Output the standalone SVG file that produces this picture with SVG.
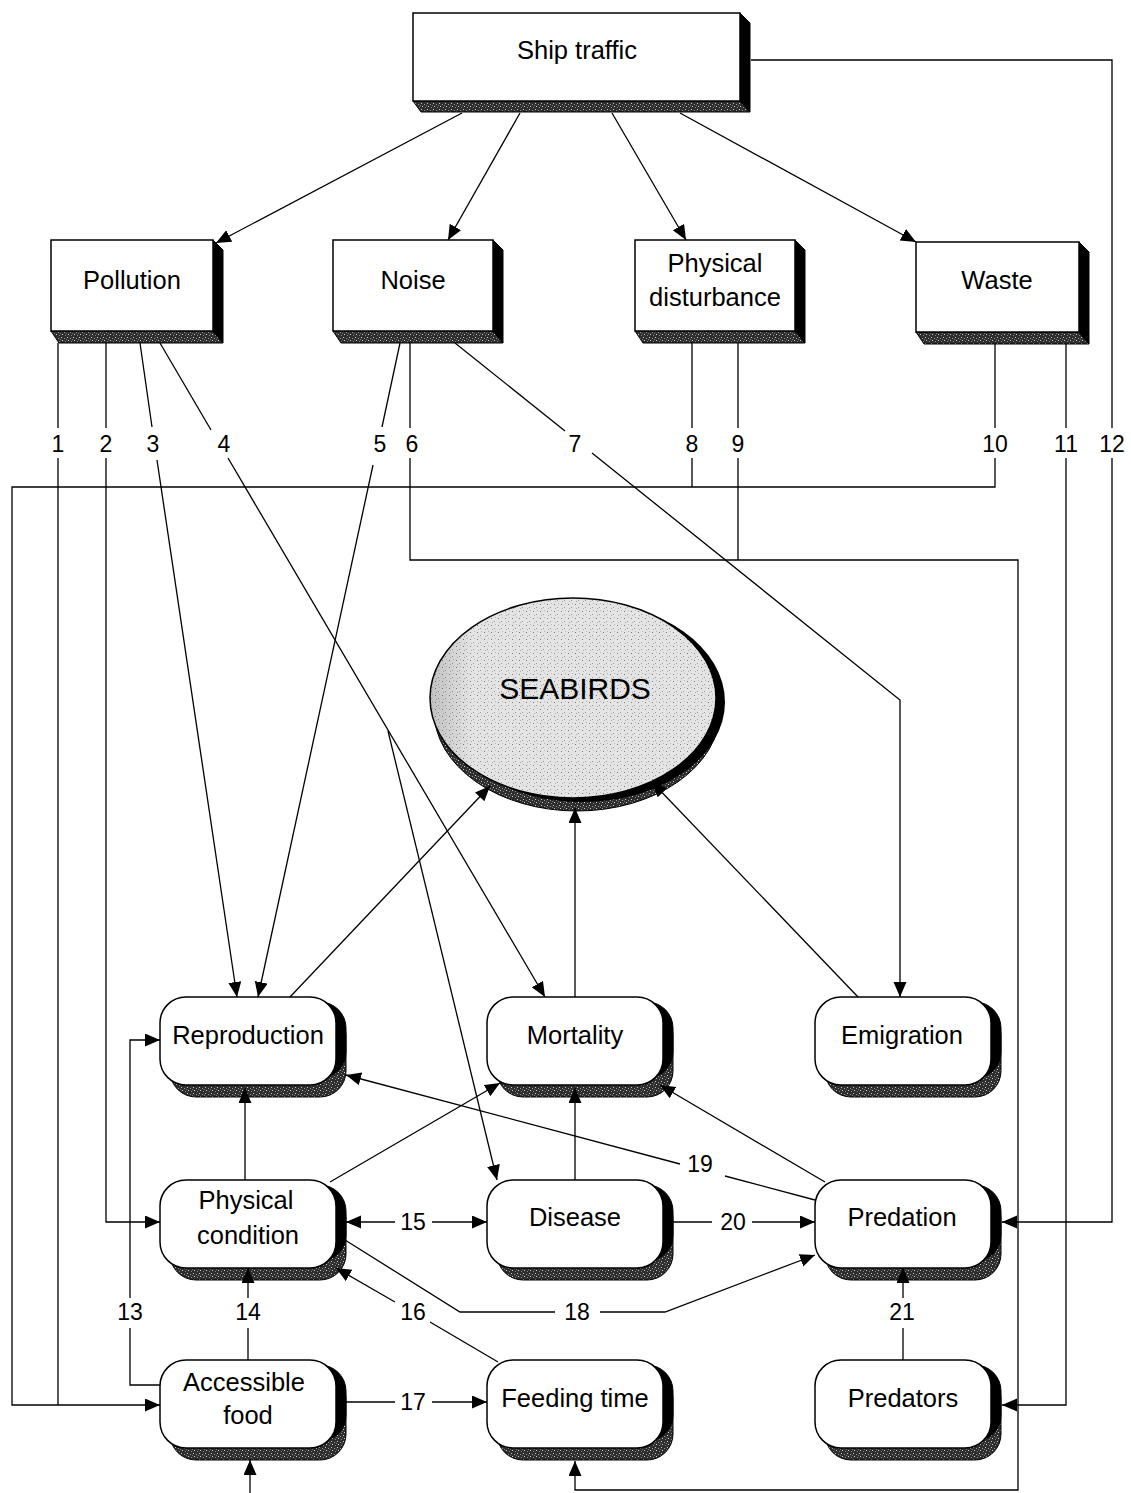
<svg xmlns="http://www.w3.org/2000/svg" width="1131" height="1493" viewBox="0 0 1131 1493">
<defs>
<style>
.t{font-family:"Liberation Sans",Arial,sans-serif;font-size:25.5px;fill:#000;text-anchor:middle}
.n{font-family:"Liberation Sans",Arial,sans-serif;font-size:23px;fill:#000;text-anchor:middle}
.face{fill:#fff;stroke:#000;stroke-width:1.5}
.side{fill:#000;stroke:#000;stroke-width:1}
.band{fill:url(#band);stroke:#000;stroke-width:1}
.c{fill:none;stroke:#000;stroke-width:1.3}
.a{marker-end:url(#arr)}
</style>
<pattern id="band" width="6" height="6" patternUnits="userSpaceOnUse">
<rect width="6" height="6" fill="#2e2e2e"/>
<rect x="1" y="1" width="1" height="1" fill="#c8c8c8"/>
<rect x="4" y="2" width="1" height="1" fill="#9a9a9a"/>
<rect x="2" y="4" width="1" height="1" fill="#d0d0d0"/>
<rect x="5" y="5" width="1" height="1" fill="#888"/>
<rect x="0" y="3" width="1" height="1" fill="#777"/>
</pattern>
<pattern id="stip" width="7" height="7" patternUnits="userSpaceOnUse">
<rect width="7" height="7" fill="#e4e4e4"/>
<rect x="1" y="2" width="1" height="1" fill="#7a7a7a"/>
<rect x="4" y="5" width="1" height="1" fill="#999"/>
<rect x="5" y="1" width="1" height="1" fill="#b5b5b5"/>
<rect x="2" y="6" width="1" height="1" fill="#aaa"/>
</pattern>
<linearGradient id="edge" x1="0" y1="0" x2="1" y2="0">
<stop offset="0" stop-color="#000" stop-opacity="0.15"/>
<stop offset="0.15" stop-color="#000" stop-opacity="0"/>
</linearGradient>
<marker id="arr" markerUnits="userSpaceOnUse" markerWidth="16" markerHeight="14" refX="15" refY="6.5" orient="auto-start-reverse">
<path d="M0,0 L15,6.5 L0,13 z" fill="#000"/>
</marker>
</defs>

<g id="ship-traffic">
<polygon class="band" points="413,101 740,101 750,112 421,112"/>
<polygon class="side" points="740,13 750,23 750,112 740,101"/>
<rect class="face" x="413" y="13" width="327" height="88"/>
<text class="t" x="577" y="59">Ship traffic</text>
</g>
<g id="pollution">
<polygon class="band" points="51,331 213,331 223,343 59,343"/>
<polygon class="side" points="213,240 223,250 223,343 213,331"/>
<rect class="face" x="51" y="240" width="162" height="91"/>
<text class="t" x="132" y="289">Pollution</text>
</g>
<g id="noise">
<polygon class="band" points="333,331 493,331 503,343 341,343"/>
<polygon class="side" points="493,240 503,250 503,343 493,331"/>
<rect class="face" x="333" y="240" width="160" height="91"/>
<text class="t" x="413" y="289">Noise</text>
</g>
<g id="physical-disturbance">
<polygon class="band" points="635,331 795,331 805,343 643,343"/>
<polygon class="side" points="795,240 805,250 805,343 795,331"/>
<rect class="face" x="635" y="240" width="160" height="91"/>
<text class="t" x="715" y="272">Physical</text>
<text class="t" x="715" y="306">disturbance</text>
</g>
<g id="waste">
<polygon class="band" points="916,332 1079,332 1089,344 924,344"/>
<polygon class="side" points="1079,242 1089,252 1089,344 1079,332"/>
<rect class="face" x="916" y="242" width="163" height="90"/>
<text class="t" x="997" y="289">Waste</text>
</g>

<g id="seabirds">
<ellipse cx="577" cy="711" rx="143" ry="100" fill="url(#band)" stroke="#000"/>
<ellipse cx="582" cy="702" rx="143" ry="100" fill="#000"/>
<ellipse cx="573" cy="698" rx="143" ry="100" fill="url(#stip)" stroke="#000" stroke-width="1.5"/>
<ellipse cx="573" cy="698" rx="143" ry="100" fill="url(#edge)"/>
<text class="t" x="575" y="699" style="font-size:30px">SEABIRDS</text>
</g>

<g id="reproduction">
<rect class="band" x="170" y="1009" width="176" height="88" rx="26"/>
<rect class="side" x="170" y="1002" width="176" height="76" rx="26"/>
<rect class="face" x="160" y="997" width="176" height="88" rx="26"/>
<text class="t" x="248" y="1044">Reproduction</text>
</g>
<g id="mortality">
<rect class="band" x="497" y="1009" width="176" height="88" rx="26"/>
<rect class="side" x="497" y="1002" width="176" height="76" rx="26"/>
<rect class="face" x="487" y="997" width="176" height="88" rx="26"/>
<text class="t" x="575" y="1044">Mortality</text>
</g>
<g id="emigration">
<rect class="band" x="825" y="1009" width="176" height="88" rx="26"/>
<rect class="side" x="825" y="1002" width="176" height="76" rx="26"/>
<rect class="face" x="815" y="997" width="176" height="88" rx="26"/>
<text class="t" x="902" y="1044">Emigration</text>
</g>
<g id="physical-condition">
<rect class="band" x="170" y="1192" width="176" height="88" rx="26"/>
<rect class="side" x="170" y="1185" width="176" height="76" rx="26"/>
<rect class="face" x="160" y="1180" width="176" height="88" rx="26"/>
<text class="t" x="246" y="1209">Physical</text>
<text class="t" x="248" y="1244">condition</text>
</g>
<g id="disease">
<rect class="band" x="497" y="1192" width="176" height="88" rx="26"/>
<rect class="side" x="497" y="1185" width="176" height="76" rx="26"/>
<rect class="face" x="487" y="1180" width="176" height="88" rx="26"/>
<text class="t" x="575" y="1226">Disease</text>
</g>
<g id="predation">
<rect class="band" x="825" y="1192" width="176" height="88" rx="26"/>
<rect class="side" x="825" y="1185" width="176" height="76" rx="26"/>
<rect class="face" x="815" y="1180" width="176" height="88" rx="26"/>
<text class="t" x="902" y="1226">Predation</text>
</g>
<g id="accessible-food">
<rect class="band" x="170" y="1372" width="176" height="88" rx="26"/>
<rect class="side" x="170" y="1365" width="176" height="76" rx="26"/>
<rect class="face" x="160" y="1360" width="176" height="88" rx="26"/>
<text class="t" x="244" y="1391">Accessible</text>
<text class="t" x="248" y="1424">food</text>
</g>
<g id="feeding-time">
<rect class="band" x="497" y="1372" width="176" height="88" rx="26"/>
<rect class="side" x="497" y="1365" width="176" height="76" rx="26"/>
<rect class="face" x="487" y="1360" width="176" height="88" rx="26"/>
<text class="t" x="575" y="1407">Feeding time</text>
</g>
<g id="predators">
<rect class="band" x="825" y="1372" width="176" height="88" rx="26"/>
<rect class="side" x="825" y="1365" width="176" height="76" rx="26"/>
<rect class="face" x="815" y="1360" width="176" height="88" rx="26"/>
<text class="t" x="903" y="1407">Predators</text>
</g>

<g id="connectors">
<path class="c a" d="M462,113 L216,243"/>
<path class="c a" d="M520,113 L448,240"/>
<path class="c a" d="M612,113 L686,240"/>
<path class="c a" d="M680,113 L916,242"/>
<path class="c" d="M751,60 H1112 V428"/>
<path class="c a" d="M1112,458 V1222 H1002"/>
<path class="c" d="M1066,344 V428"/>
<path class="c a" d="M1066,458 V1405 H1002"/>
<path class="c" d="M995,344 V428"/>
<path class="c a" d="M995,458 V487 H12 V1405 H160"/>
<path class="c" d="M692,343 V428 M692,458 V487"/>
<path class="c" d="M738,343 V428 M738,458 V560"/>
<path class="c" d="M410,343 V428"/>
<path class="c a" d="M410,458 V560 H1018 V1490 H575 V1461"/>
<path class="c" d="M455,343 L565,431"/>
<path class="c a" d="M592,453 L900,700 V997"/>
<path class="c" d="M400,343 L382,427"/>
<path class="c a" d="M373,465 L258,997"/>
<path class="c" d="M160,343 L211,430"/>
<path class="c a" d="M228,458 L545,997"/>
<path class="c a" d="M388,731 L497,1180"/>
<path class="c" d="M140,343 L152,427"/>
<path class="c a" d="M157,460 L237,997"/>
<path class="c" d="M106,343 V428"/>
<path class="c a" d="M106,458 V1222 H160"/>
<path class="c" d="M58,343 V428 M58,458 V1405"/>
<path class="c" d="M160,1385 H130 V1328"/>
<path class="c a" d="M130,1298 V1040 H160"/>
<path class="c" d="M248,1360 V1328"/>
<path class="c a" d="M248,1298 V1268"/>
<path class="c a" d="M395,1222 H346"/>
<path class="c a" d="M432,1222 H487"/>
<path class="c" d="M498,1362 L430,1322"/>
<path class="c a" d="M395,1302 L336,1268"/>
<path class="c" d="M336,1402 H395"/>
<path class="c a" d="M432,1402 H487"/>
<path class="c" d="M345,1240 L460,1312 H555"/>
<path class="c a" d="M600,1312 H665 L815,1255"/>
<path class="c" d="M815,1200 L725,1176"/>
<path class="c a" d="M680,1164 L346,1075"/>
<path class="c" d="M663,1222 H712"/>
<path class="c a" d="M752,1222 H815"/>
<path class="c" d="M903,1360 V1328"/>
<path class="c a" d="M903,1298 V1268"/>
<path class="c a" d="M825,1182 L660,1085"/>
<path class="c a" d="M330,1182 L500,1083"/>
<path class="c a" d="M575,1180 V1088"/>
<path class="c a" d="M245,1180 V1088"/>
<path class="c a" d="M290,997 L490,786"/>
<path class="c a" d="M575,997 V808"/>
<path class="c a" d="M858,997 L652,782"/>
<path class="c a" d="M250,1493 V1460"/>
<text class="n" x="58" y="452">1</text>
<text class="n" x="106" y="452">2</text>
<text class="n" x="153" y="452">3</text>
<text class="n" x="224" y="452">4</text>
<text class="n" x="380" y="452">5</text>
<text class="n" x="412" y="452">6</text>
<text class="n" x="575" y="452">7</text>
<text class="n" x="692" y="452">8</text>
<text class="n" x="738" y="452">9</text>
<text class="n" x="995" y="452">10</text>
<text class="n" x="1066" y="452">11</text>
<text class="n" x="1112" y="452">12</text>
<text class="n" x="130" y="1320">13</text>
<text class="n" x="248" y="1320">14</text>
<text class="n" x="413" y="1230">15</text>
<text class="n" x="413" y="1320">16</text>
<text class="n" x="413" y="1410">17</text>
<text class="n" x="577" y="1320">18</text>
<text class="n" x="700" y="1172">19</text>
<text class="n" x="733" y="1230">20</text>
<text class="n" x="902" y="1320">21</text>
</g>
</svg>
